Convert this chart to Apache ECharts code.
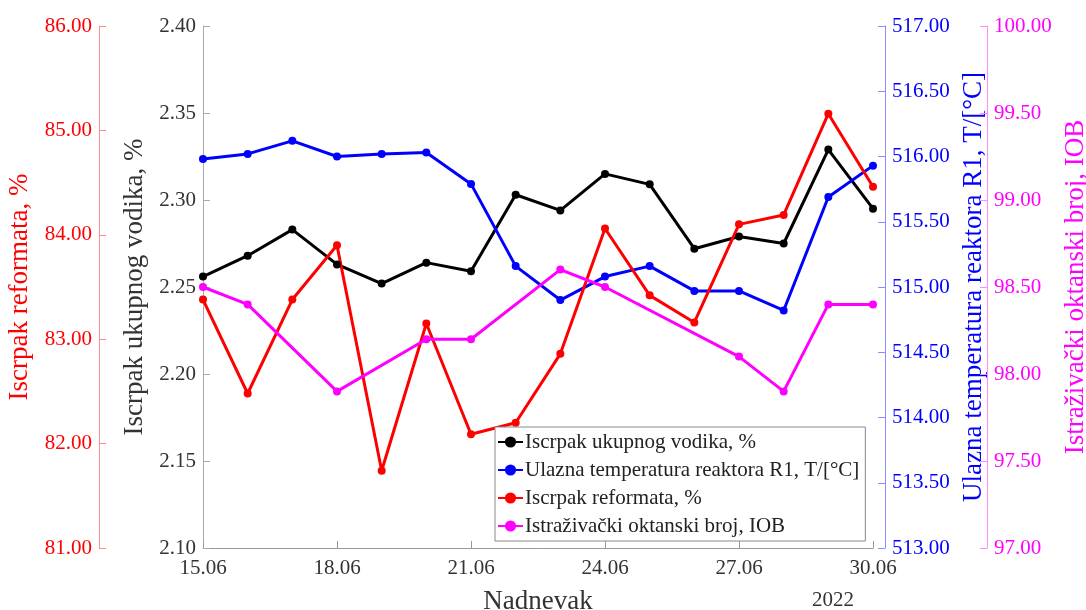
<!DOCTYPE html>
<html>
<head>
<meta charset="utf-8">
<script src="https://cdn.jsdelivr.net/npm/echarts@6/dist/echarts.min.js"></script>
<style>
  html, body { margin: 0; padding: 0; background: #fff; }
  #chart { width: 1086px; height: 610px; }
</style>
</head>
<body>
<div id="chart"></div>
<script>
// Daily dates (June 2022)
const dates = ['15.06', '16.06', '17.06', '18.06', '19.06', '20.06', '21.06', '22.06',
               '23.06', '24.06', '25.06', '26.06', '27.06', '28.06', '29.06', '30.06'];

// Total hydrogen yield, %
const hydrogenYield = [2.256, 2.268, 2.283, 2.263, 2.252, 2.264, 2.259, 2.303,
                       2.294, 2.315, 2.309, 2.272, 2.279, 2.275, 2.329, 2.295];

// Reactor R1 inlet temperature, °C
const reactorInletTemp = [515.98, 516.02, 516.12, 516.00, 516.02, 516.03, 515.79, 515.16,
                          514.90, 515.08, 515.16, 514.97, 514.97, 514.82, 515.69, 515.93];

// Reformate yield, %
const reformateYield = [83.38, 82.48, 83.38, 83.90, 81.74, 83.15, 82.09, 82.20,
                        82.86, 84.06, 83.42, 83.16, 84.10, 84.19, 85.16, 84.46];

// Research octane number (not measured every day)
const researchOctane = [98.50, 98.40, null, 97.90, null, 98.20, 98.20, null,
                        98.60, 98.50, null, null, 98.10, 97.90, 98.40, 98.40];

const seriesNames = [
  'Iscrpak ukupnog vodika, %',
  'Ulazna temperatura reaktora R1, T/[°C]',
  'Iscrpak reformata, %',
  'Istraživački oktanski broj, IOB'
];

const FONT = 'Liberation Serif';

function valueAxis(opts) {
  return {
    type: 'value',
    position: opts.position,
    offset: opts.offset,
    min: opts.min,
    max: opts.max,
    interval: opts.interval,
    name: opts.name,
    nameLocation: 'middle',
    nameRotate: 90,
    nameGap: opts.nameGap,
    nameTextStyle: { color: opts.color, fontFamily: FONT, fontSize: 27 },
    axisLine: { show: true, lineStyle: { color: opts.lineColor, width: 1 } },
    axisTick: { show: true, inside: true, length: 7, lineStyle: { color: opts.lineColor } },
    axisLabel: {
      color: opts.color, fontFamily: FONT, fontSize: 21, margin: 7,
      formatter: v => v.toFixed(2)
    },
    splitLine: { show: false }
  };
}

function lineSeries(name, data, color, axisIndex) {
  return {
    name: name,
    type: 'line',
    yAxisIndex: axisIndex,
    data: data,
    connectNulls: true,
    symbol: 'circle',
    symbolSize: 8,
    lineStyle: { width: 3, color: color },
    itemStyle: { color: color },
    emphasis: { disabled: true }
  };
}

const chart = echarts.init(document.getElementById('chart'));
chart.setOption({
  animation: false,
  backgroundColor: '#fff',
  grid: { left: 203, right: 213, top: 26, bottom: 62, containLabel: false, outerBoundsMode: 'none' },
  legend: {
    orient: 'vertical',
    left: 495,
    top: 427,
    padding: [3, 6, 3, 2],
    itemGap: 4,
    itemWidth: 25,
    itemHeight: 14,
    borderColor: '#888',
    borderWidth: 1,
    backgroundColor: '#fff',
    borderRadius: 0,
    data: seriesNames,
    textStyle: { color: '#222', fontFamily: FONT, fontSize: 21, lineHeight: 24, padding: [0, 0, 0, -3] }
  },
  xAxis: {
    type: 'category',
    data: dates,
    boundaryGap: false,
    name: 'Nadnevak',
    nameLocation: 'middle',
    nameGap: 40,
    nameTextStyle: { color: '#333', fontFamily: FONT, fontSize: 27 },
    axisLine: { show: true, lineStyle: { color: '#999' } },
    axisTick: { show: true, inside: true, length: 7, interval: 2, lineStyle: { color: '#999' } },
    axisLabel: { interval: 2, color: '#333', fontFamily: FONT, fontSize: 21, margin: 10 },
    splitLine: { show: false }
  },
  yAxis: [
    valueAxis({ position: 'left', offset: 0, min: 2.10, max: 2.40, interval: 0.05,
                name: seriesNames[0], nameGap: 51, color: '#333', lineColor: '#aaa' }),
    valueAxis({ position: 'right', offset: 12, min: 513, max: 517, interval: 0.5,
                name: seriesNames[1], nameGap: 70, color: '#0000ff', lineColor: '#8c8cff' }),
    valueAxis({ position: 'left', offset: 104, min: 81, max: 86, interval: 1,
                name: seriesNames[2], nameGap: 64, color: '#ff0000', lineColor: '#ff8c8c' }),
    valueAxis({ position: 'right', offset: 114, min: 97, max: 100, interval: 0.5,
                name: seriesNames[3], nameGap: 72, color: '#ff00ff', lineColor: '#ff8cff' })
  ],
  graphic: [{
    type: 'text',
    left: 812,
    top: 590,
    style: { text: '2022', fill: '#333', font: '21px "Liberation Serif"' }
  }],
  series: [
    lineSeries(seriesNames[0], hydrogenYield, '#000000', 0),
    lineSeries(seriesNames[1], reactorInletTemp, '#0000ff', 1),
    lineSeries(seriesNames[2], reformateYield, '#ff0000', 2),
    lineSeries(seriesNames[3], researchOctane, '#ff00ff', 3)
  ]
});
</script>
</body>
</html>
